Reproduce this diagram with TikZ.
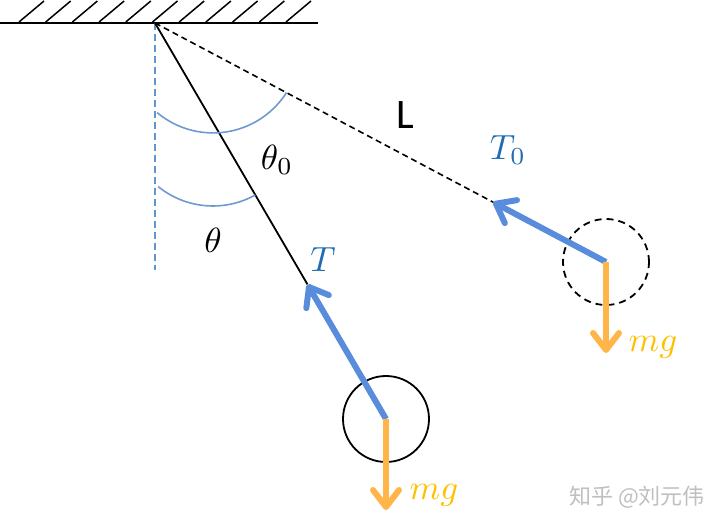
\documentclass[tikz,border=0pt]{standalone}
\usepackage{amsmath}
\usepackage{fontspec}
\usetikzlibrary{arrows.meta,calc}
\newfontfamily\cjkfont{Noto Sans CJK SC}
\newfontfamily\lenfont{Carlito}
\definecolor{forceblue}{RGB}{89,141,219}
\definecolor{tenblue}{RGB}{30,108,178}
\definecolor{gforce}{RGB}{255,181,74}
\definecolor{gtext}{RGB}{255,192,0}
\definecolor{anglecol}{RGB}{112,153,210}
\definecolor{vertcol}{RGB}{95,150,205}

\begin{document}
\begin{tikzpicture}[x=1pt,y=1pt,
  force/.style={line width=6pt,-{Straight Barb[length=17pt,width=26pt,round]}},
  lbl/.style={font=\normalsize,scale=3.5},
  bob/.style={circle,draw,line width=1.8pt,minimum size=86pt,inner sep=0pt}]
  \useasboundingbox (0,0) rectangle (723,530);
  % Define coordinates
  \path
    (155,507) coordinate (O)
    (386,111) coordinate (B)
    (606,268) coordinate (B0)
    ($(B)!0.34!(O)$) coordinate (Ttip)
    ($(B0)!0.25!(O)$) coordinate (T0tip)
    (386,20) coordinate (G)
    (606,177) coordinate (G0)
  ;
  % Ceiling
  \draw[line width=2.5pt] (0,507) -- (318,507);
  \foreach \x in {0,...,10}
    \draw[line width=1.5pt] ({19+26.7*\x},508) -- ++(25,21);
  % Vertical and strings
  \draw[vertcol,line width=1.8pt,dash pattern=on 7pt off 4pt] (O) -- ++(0,-247);
  \draw[line width=1.8pt] (O) -- (Ttip);
  \draw[line width=1.6pt,dash pattern=on 6pt off 4pt] (O) -- (T0tip);
  % Angle marks
  \draw[anglecol,line width=1.6pt] (157.1,417.4) arc[start angle=230,end angle=327.6,radius=87];
  \draw[anglecol,line width=1.6pt] (158.2,343.4) arc[start angle=231,end angle=299.1,radius=87];
  % Bobs
  \node[bob] (ball) at (B) {};
  \node[bob,dash pattern=on 7pt off 5pt] (ball0) at (B0) {};
  % Forces
  \draw[force,forceblue] (ball.center) -- (Ttip);
  \draw[force,forceblue] (ball0.center) -- (T0tip);
  \draw[force,gforce] (ball.center) -- (G);
  \draw[force,gforce] (ball0.center) -- (G0);
  % Labels
  \node[lbl] (th0) at (277,370) {$\theta_0$};
  \node[lbl] (th) at (213,290) {$\theta$};
  \node[lbl,text=tenblue] (Tl) at (323,270) {$T$};
  \node[lbl,text=tenblue] (T0l) at (508,380) {$T_0$};
  \node[font=\lenfont\fontsize{42}{48}\selectfont] (len) at (405,415) {L};
  \node[lbl,text=gtext] (mg) at (434,35) {$mg$};
  \node[lbl,text=gtext] (mg0) at (653,183) {$mg$};
  \node[text=black!25,font=\cjkfont\fontsize{22}{24}\selectfont] (mark) at (637,33) {知乎 @刘元伟};
\end{tikzpicture}
\end{document}
